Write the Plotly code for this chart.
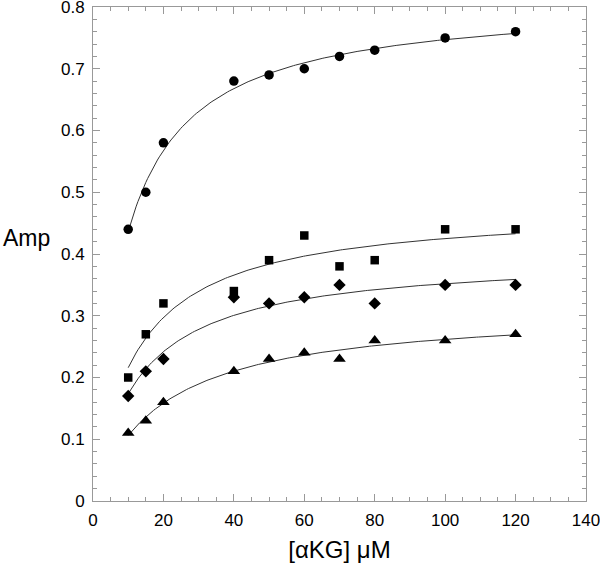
import numpy as np
import plotly.graph_objects as go

conc = [10, 15, 20, 40, 50, 60, 70, 80, 100, 120]
amp_circle = [0.44, 0.50, 0.58, 0.68, 0.69, 0.70, 0.72, 0.73, 0.75, 0.76]
amp_square = [0.20, 0.27, 0.32, 0.34, 0.39, 0.43, 0.38, 0.39, 0.44, 0.44]
amp_diamond = [0.17, 0.21, 0.23, 0.33, 0.32, 0.33, 0.35, 0.32, 0.35, 0.35]
amp_triangle = [0.11, 0.13, 0.16, 0.21, 0.23, 0.24, 0.23, 0.26, 0.26, 0.27]

x_ticks = [0, 20, 40, 60, 80, 100, 120, 140]
y_ticks = [0, 0.1, 0.2, 0.3, 0.4, 0.5, 0.6, 0.7, 0.8]
y_labels = ["0", "0.1", "0.2", "0.3", "0.4", "0.5", "0.6", "0.7", "0.8"]


def mm_fit(x, y):
    # least-squares Michaelis-Menten fit: y = Vmax*x/(Km+x)
    x = np.asarray(x, float)
    y = np.asarray(y, float)
    best = None
    for km in np.linspace(0.5, 60, 1200):
        f = x / (km + x)
        vmax = (f @ y) / (f @ f)
        err = np.sum((vmax * f - y) ** 2)
        if best is None or err < best[0]:
            best = (err, vmax, km)
    return best[1], best[2]


FONT = "Liberation Sans, Arial, sans-serif"
fig = go.Figure()
series = [
    (amp_circle, "circle", 9.5),
    (amp_square, "square", 8.5),
    (amp_diamond, "diamond", 9.5),
    (amp_triangle, "triangle-up", 11),
]
xs = np.linspace(min(conc), max(conc), 200)
for ys, sym, sz in series:
    vmax, km = mm_fit(conc, ys)
    fig.add_trace(go.Scatter(x=xs, y=vmax * xs / (km + xs), mode="lines",
                             line=dict(color="#333333", width=1),
                             showlegend=False, hoverinfo="skip"))
    fig.add_trace(go.Scatter(x=conc, y=ys, mode="markers",
                             marker=dict(symbol=sym, size=sz, color="black"),
                             showlegend=False))

axis_common = dict(
    showgrid=False, zeroline=False, showline=True, linecolor="#999999",
    linewidth=1, mirror="ticks", ticks="inside", ticklen=7, tickcolor="#999999",
    tickfont=dict(family=FONT, size=17, color="black"),
    ticklabelstandoff=4, ticklabeloverflow="allow",
)
fig.update_xaxes(range=[0, 140.0001], tickvals=x_ticks,
                 ticktext=[str(v) for v in x_ticks],
                 minor=dict(dtick=5, ticks="inside", ticklen=4, tickcolor="#999999"),
                 title=dict(text="[αKG] μM", font=dict(family=FONT, size=24, color="black"), standoff=11),
                 **axis_common)
fig.update_yaxes(range=[0, 0.80001], tickvals=y_ticks, ticktext=y_labels,
                 minor=dict(dtick=0.02, ticks="inside", ticklen=4, tickcolor="#999999"),
                 **axis_common)

fig.add_annotation(text="Amp", xref="paper", yref="paper", x=-0.134, y=0.532,
                   xanchor="center", yanchor="middle", showarrow=False,
                   font=dict(family=FONT, size=23, color="black"))

fig.update_layout(width=600, height=567, plot_bgcolor="white", paper_bgcolor="white",
                  margin=dict(l=93, r=14, t=7, b=66, autoexpand=False))
fig.write_html("out.html", config={"displayModeBar": False},
               post_script="document.body.style.margin='0';")
